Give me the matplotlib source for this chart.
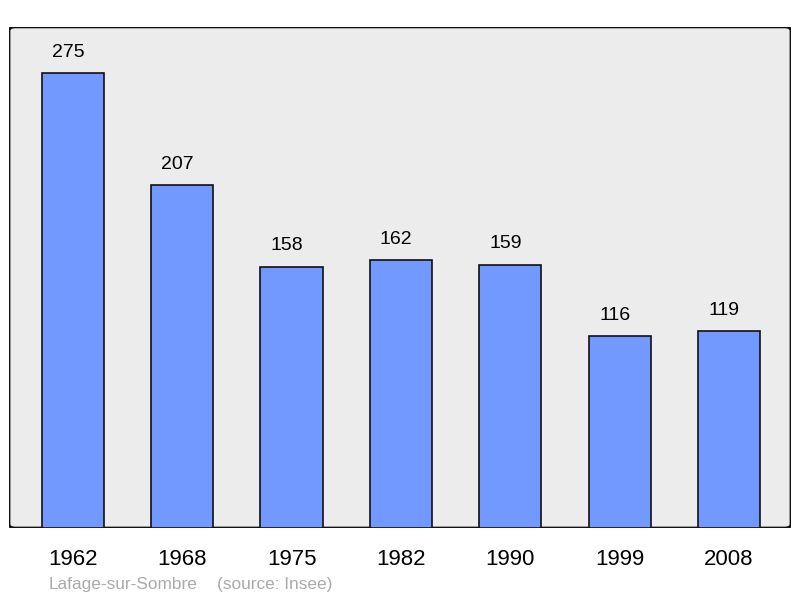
import matplotlib.pyplot as plt
from matplotlib.patches import FancyBboxPatch

years = ['1962', '1968', '1975', '1982', '1990', '1999', '2008']
population = [275, 207, 158, 162, 159, 116, 119]

plt.rcParams['font.family'] = ['Liberation Sans', 'DejaVu Sans']

fig = plt.figure(figsize=(8, 5.98), dpi=100)
ax = fig.add_axes([0.01125, 0.117, 0.9775, 0.838])
ax.set_facecolor('none')

# rounded frame behind the plot
frame = FancyBboxPatch((0, 0), 1, 1, boxstyle='round,pad=0,rounding_size=0.008',
                       transform=ax.transAxes, facecolor='#ececec',
                       edgecolor='#111111', linewidth=2, zorder=0)
ax.add_patch(frame)

x = range(len(years))
ax.bar(x, population, width=0.57, color='#7299ff', edgecolor='#111111',
       linewidth=1.2, zorder=2)

for xi, v in zip(x, population):
    ax.text(xi - 0.045, v + 7.5, str(v), ha='center', va='bottom', fontsize=14, zorder=3)

ax.set_xlim(-0.585, 6.567)
ax.set_ylim(0, 302.8)
ax.set_xticks(list(x))
ax.set_xticklabels(years, fontsize=16)
ax.tick_params(axis='x', length=0, pad=15)
ax.set_yticks([])
for s in ax.spines.values():
    s.set_visible(False)

fig.text(49 / 800, 1 - 584 / 598, 'Lafage-sur-Sombre', color='#aaaaaa',
         fontsize=12.4, va='center', ha='left')
fig.text(217 / 800, 1 - 584 / 598, '(source: Insee)', color='#aaaaaa',
         fontsize=12.4, va='center', ha='left')

fig.savefig('out.png', dpi=100)
